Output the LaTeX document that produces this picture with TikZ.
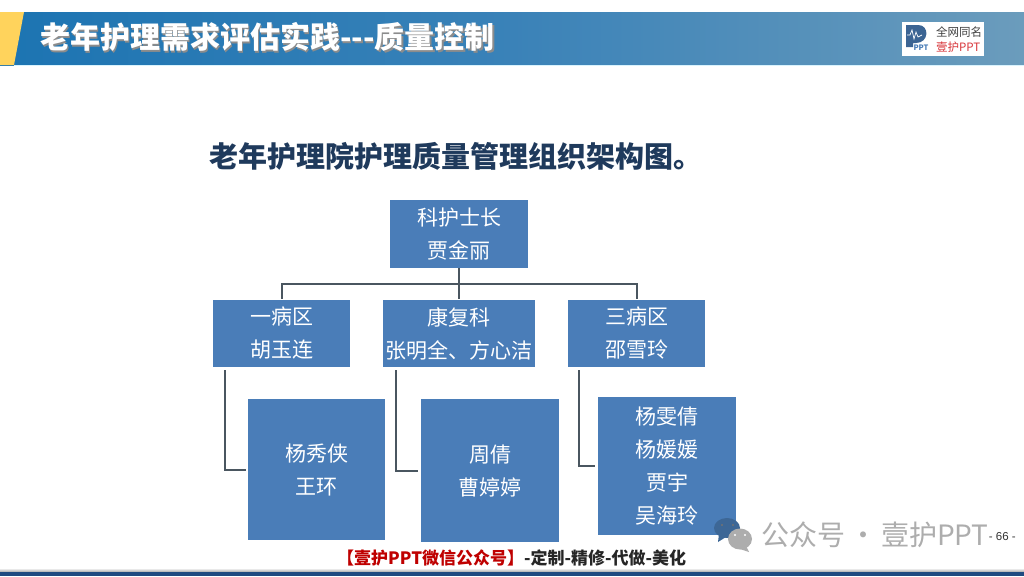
\documentclass[tikz,border=0pt]{standalone}
\usepackage{fontspec}
\setmainfont{Noto Sans CJK SC}
\newfontfamily\latinfont{Liberation Sans}
\usetikzlibrary{calc}
\definecolor{boxblue}{HTML}{4A7DB8}
\definecolor{linegray}{HTML}{4A5660}
\definecolor{titlenavy}{HTML}{1F3A5C}
\definecolor{bandleft}{HTML}{1C74B2}
\definecolor{bandmid}{HTML}{3A82B8}
\definecolor{bandright}{HTML}{6B9CBC}
\definecolor{navybar}{HTML}{1F4A80}
\definecolor{logored}{HTML}{D8353A}
\definecolor{markgray}{HTML}{ADADAD}
\definecolor{bubbleblue}{HTML}{3D6796}
\definecolor{wedge}{HTML}{FFD35C}
\tikzset{
  orgbox/.style={fill=boxblue,text=white,inner sep=0pt,outer sep=0pt,align=center,
    font=\fontsize{21}{33}\selectfont,execute at end node={\par\vspace{2pt}}},
  link/.style={draw=linegray,line width=2pt},
  headtext/.style={inner sep=0pt,font=\bfseries\fontsize{30}{31}\selectfont},
}
\begin{document}
\begin{tikzpicture}[x=1pt,y=-1pt]
\useasboundingbox (0,0) rectangle (1024,576);
\fill[white] (0,0) rectangle (1024,576);
% header
\fill[left color=bandleft,right color=bandright,middle color=bandmid] (0,12) rectangle (1024,65);
\fill[wedge] (0,12) -- (24,12) -- (14,65) -- (0,65) -- cycle;
\draw[cyan!15,line width=1pt] (14,65.5) -- (1024,65.5);
\node[headtext,text=black!45,anchor=west] (headshadow) at (41.5,38.5) {老年护理需求评估实践{-}{-}{-}质量控制};
\node[headtext,text=white,anchor=west] (head) at (40,37) {老年护理需求评估实践{-}{-}{-}质量控制};
% logo
\fill[white] (902,22) rectangle (984,56);
\fill[boxblue!80!black] (906,25) -- (918,25) .. controls (930,25) and (929,43) .. (916,43) -- (913,43) -- (913,47) -- (906,47) -- cycle;
\draw[white,line width=.7pt] (907,35) -- (910,35) -- (912,30) -- (914,39) -- (916,32) -- (918,37) -- (922,35);
\node[inner sep=0pt,text=boxblue,font=\bfseries\fontsize{7.5}{8}\selectfont] (logoppt) at (921,47.5) {PPT};
\node[inner sep=0pt,anchor=west,text=black!75,font=\fontsize{11.5}{12}\selectfont] (logoa) at (936,32.5) {全网同名};
\node[inner sep=0pt,anchor=west,text=logored,font=\fontsize{11.5}{12}\selectfont] (logob) at (936,47) {壹护PPT};
% title
\node[inner sep=0pt,anchor=west,text=titlenavy,font=\bfseries\fontsize{29}{32}\selectfont] (title) at (209,156.5) {老年护理院护理质量管理组织架构图。};
% boxes
\node[orgbox,minimum width=138pt,minimum height=68pt] (top) at (459,234) {科护士长\\贾金丽};
\node[orgbox,minimum width=137pt,minimum height=67pt] (l1) at (281.5,333.5) {一病区\\胡玉连};
\node[orgbox,minimum width=152pt,minimum height=67pt] (l2) at (459,333.5) {康复科\\张明全、方心洁};
\node[orgbox,minimum width=137pt,minimum height=67pt] (l3) at (636.5,333.5) {三病区\\邵雪玲};
\node[orgbox,minimum width=137pt,minimum height=141pt] (b1) at (316.5,469.5) {杨秀侠\\王环};
\node[orgbox,minimum width=138pt,minimum height=143pt] (b2) at (490,470.5) {周倩\\曹婷婷};
\node[orgbox,minimum width=138pt,minimum height=138pt] (b3) at (667,466) {杨雯倩\\杨媛媛\\贾宇\\吴海玲};
% connectors
\coordinate (bus) at (459,284);
\draw[link,shorten >=1.5pt] (top.south) -- (l2.north);
\draw[link,shorten <=1.5pt,shorten >=1.5pt] (l1.north) |- (bus) -| (l3.north);
\draw[link,shorten >=2pt] ($(l1.south west)+(11.5,3)$) |- (b1.west);
\draw[link,shorten >=3pt] ($(l2.south west)+(13,3)$) |- (b2.west);
\draw[link,shorten >=3pt] ($(l3.south west)+(11,3)$) |- (b3.west);
% footer
\fill[top color=white,bottom color=black!35] (0,568) rectangle (1024,572);
\fill[navybar] (0,572) rectangle (1024,576);
\node[inner sep=0pt,anchor=west,font=\bfseries\fontsize{17}{18}\selectfont] (promo) at (337,557.5) {\textcolor{red!75!black}{【壹护PPT微信公众号】}\textcolor{black!85}{-定制-精修-代做-美化}};
% watermark
\fill[bubbleblue] (727,528) ellipse (13pt and 10pt);
\fill[bubbleblue] (719,534) -- (718,542) -- (726,537) -- cycle;
\fill[markgray] (740,539) ellipse (12pt and 10.5pt);
\fill[markgray] (746,546) -- (749,552) -- (740,549) -- cycle;
\foreach \px/\py in {722/525,733/525}{\fill[black!55] (\px,\py) circle (1.2pt);}
\foreach \px/\py in {735/535,745/535}{\fill[white] (\px,\py) circle (1.2pt);}
\node[inner sep=0pt,anchor=west,text=markgray,font=\fontsize{28}{29}\selectfont] (mark) at (761,535) {公众号\hspace{4pt}·\hspace{4pt}壹护PPT};
\node[inner sep=0pt,anchor=east,text=black!80,font=\latinfont\fontsize{11.5}{13}\selectfont] (page) at (1016,536.5) {- 66 -};
\end{tikzpicture}
\end{document}
